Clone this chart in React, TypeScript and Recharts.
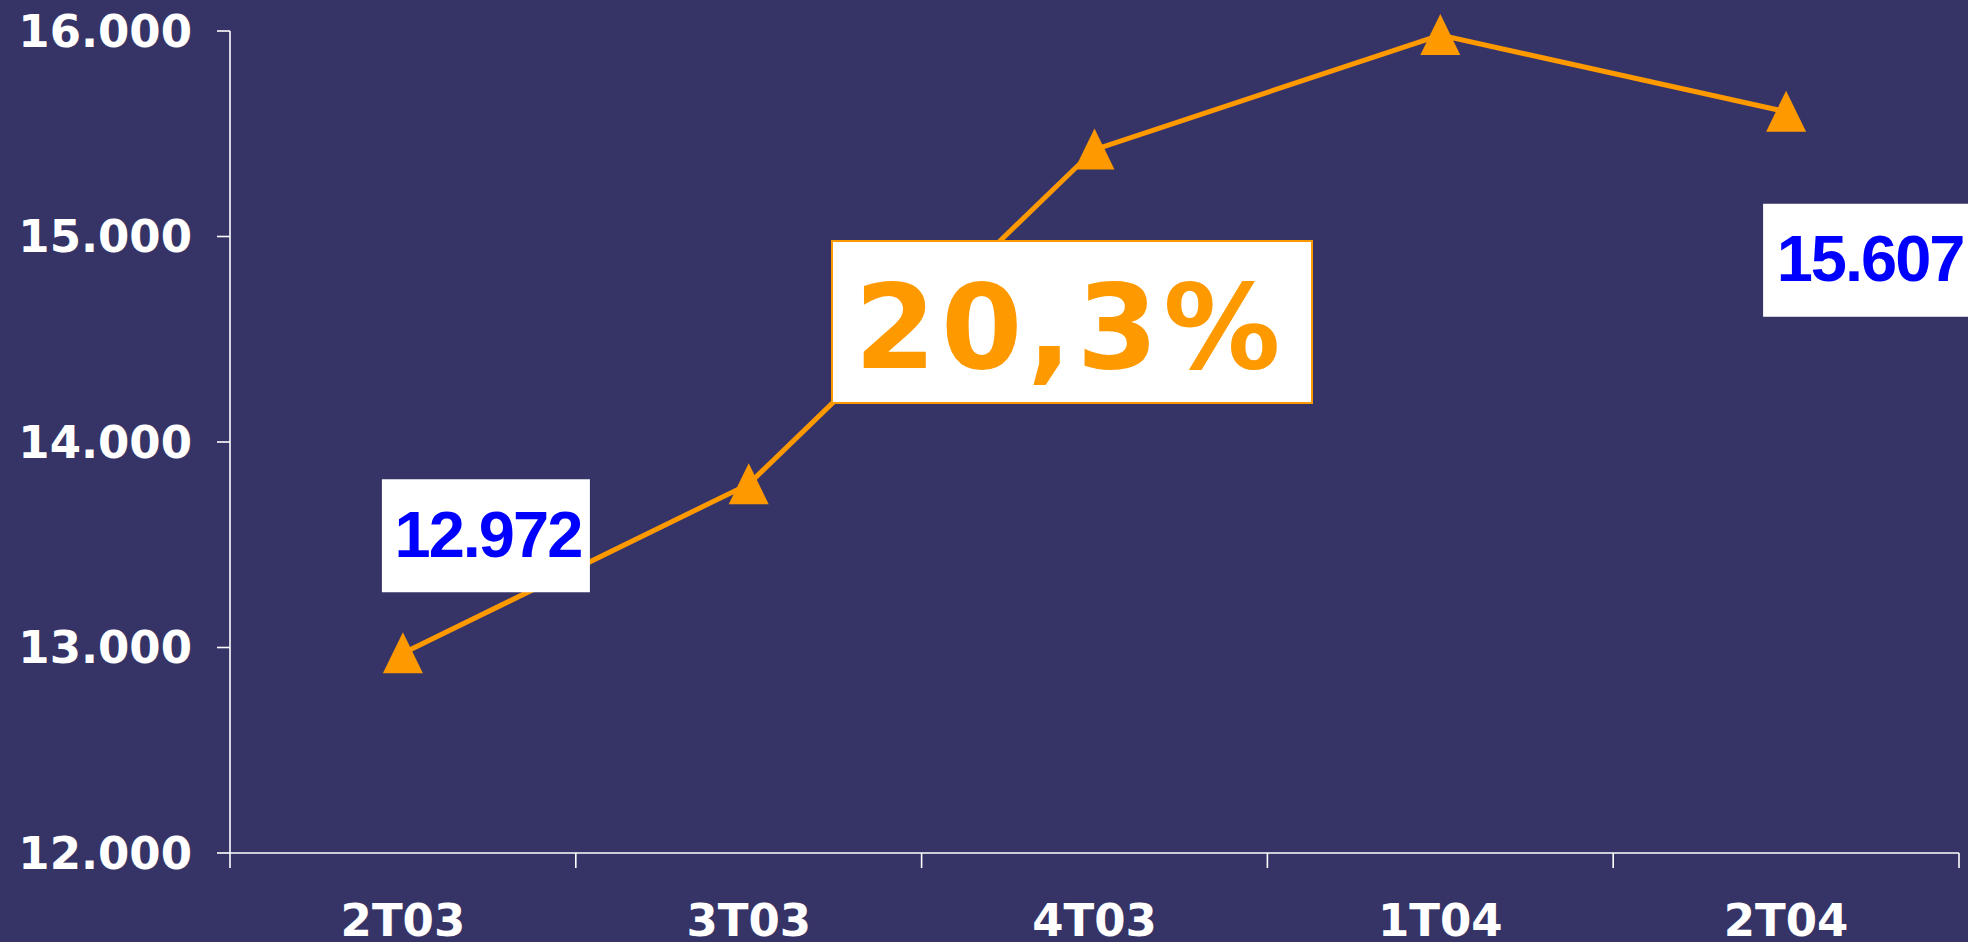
import React from "react";
import { LineChart, Line, XAxis, YAxis, LabelList } from "recharts";

// quarterly values
const quarters = ["2T03", "3T03", "4T03", "1T04", "2T04"];
const values = [12972, 13795, 15423, 15980, 15607];
const yTicks = [12000, 13000, 14000, 15000, 16000];
const labelledQuarters = ["2T03", "2T04"];
const growthText = "20,3%";

const data = quarters.map((quarter, i) => ({ quarter, value: values[i] }));

const W = 1968;
const H = 942;
const BG = "#363467";
const ORANGE = "#FF9900";
const BLUE = "#0000FF";
const AXIS_FONT = "'DejaVu Sans', Verdana, sans-serif";
const VALUE_FONT = "'Liberation Sans', Arial, sans-serif";

const MARGIN = { top: 31, right: 9, left: 0, bottom: 0 };
const Y_AXIS_W = 230;
const X_AXIS_H = 89;
const X_TICK = 15;
const X_GAP = 35;
const PLOT_BOTTOM = H - MARGIN.bottom - X_AXIS_H;
const BAND = (W - MARGIN.left - MARGIN.right - Y_AXIS_W) / quarters.length;

// where the value boxes sit relative to their point
const BOX_PLACEMENT: Record<string, { dx: number; dy: number; w: number; h: number; tx: number; ty: number }> = {
  "2T03": { dx: -21, dy: -174, w: 208, h: 113, tx: 85, ty: -96 },
  "2T04": { dx: -23, dy: 92, w: 215, h: 113, tx: 84, ty: 169 },
};

const fmt = (v: number) => String(v).replace(/\B(?=(\d{3})+(?!\d))/g, ".");

function QuarterTick({ x, payload, index }: any) {
  const half = BAND / 2;
  return (
    <g>
      <line x1={x - half} x2={x - half} y1={PLOT_BOTTOM} y2={PLOT_BOTTOM + X_TICK} stroke="#fff" strokeWidth={1.6} />
      {index === quarters.length - 1 && (
        <line x1={x + half} x2={x + half} y1={PLOT_BOTTOM} y2={PLOT_BOTTOM + X_TICK} stroke="#fff" strokeWidth={1.6} />
      )}
      <text
        x={x}
        y={PLOT_BOTTOM + X_TICK + X_GAP}
        dy="0.73em"
        textAnchor="middle"
        fill="#fff"
        fontSize={45}
        fontWeight="bold"
        fontFamily={AXIS_FONT}
      >
        {payload.value}
      </text>
    </g>
  );
}

function TriangleDot({ cx, cy, index }: any) {
  if (cx == null || cy == null) return null;
  return <path key={`tri-${index}`} d={`M${cx},${cy - 21} L${cx + 20},${cy + 20} L${cx - 20},${cy + 20} Z`} fill={ORANGE} />;
}

function ValueBox(props: any) {
  const { x, y, value, index } = props;
  const place = BOX_PLACEMENT[quarters[index]];
  if (!labelledQuarters.includes(quarters[index]) || !place) return null;
  return (
    <g>
      <rect x={x + place.dx} y={y + place.dy} width={place.w} height={place.h} fill="#fff" />
      <text
        x={x + place.tx}
        y={y + place.ty}
        textAnchor="middle"
        fill={BLUE}
        fontSize={65}
        fontWeight="bold"
        letterSpacing={-2}
        fontFamily={VALUE_FONT}
      >
        {fmt(value)}
      </text>
    </g>
  );
}

export default function App() {
  return (
    <div style={{ position: "fixed", left: 0, top: 0, width: W, height: H, background: BG, overflow: "hidden" }}>
      <LineChart width={W} height={H} data={data} margin={MARGIN}>
        <XAxis
          dataKey="quarter"
          scale="band"
          height={X_AXIS_H}
          tickLine={false}
          axisLine={{ stroke: "#fff", strokeWidth: 1.6 }}
          tick={<QuarterTick />}
          interval={0}
        />
        <YAxis
          width={Y_AXIS_W}
          domain={[12000, 16000]}
          ticks={yTicks}
          tickFormatter={fmt}
          tickSize={13}
          tickMargin={25}
          axisLine={{ stroke: "#fff", strokeWidth: 1.6 }}
          tickLine={{ stroke: "#fff", strokeWidth: 1.6 }}
          tick={{ fill: "#fff", fontSize: 45, fontWeight: "bold", fontFamily: AXIS_FONT }}
        />
        <Line
          dataKey="value"
          stroke={ORANGE}
          strokeWidth={5}
          dot={<TriangleDot />}
          activeDot={false}
          isAnimationActive={false}
        >
          <LabelList dataKey="value" content={<ValueBox />} />
        </Line>
      </LineChart>

      {/* growth call-out */}
      <svg width={W} height={H} style={{ position: "absolute", left: 0, top: 0, pointerEvents: "none" }}>
        <rect x={832} y={241} width={480} height={162} fill="#fff" stroke={ORANGE} strokeWidth={2} />
        <text
          x={1070}
          y={368}
          textAnchor="middle"
          fill={ORANGE}
          fontSize={117}
          fontWeight="bold"
          letterSpacing={5}
          fontFamily={AXIS_FONT}
        >
          {growthText}
        </text>
      </svg>
    </div>
  );
}
